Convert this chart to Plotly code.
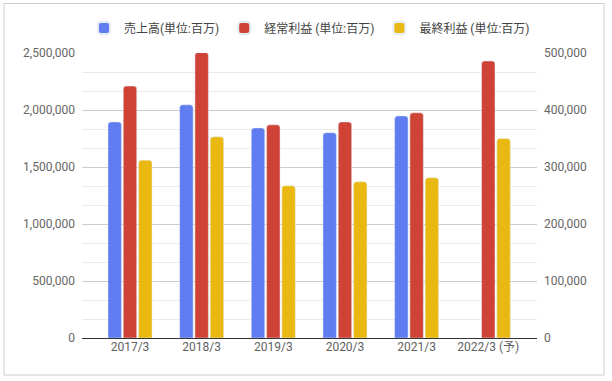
import plotly.graph_objects as go

categories = ["2017/3", "2018/3", "2019/3", "2020/3", "2021/3", "2022/3 (予)"]
sales = [1895000, 2045000, 1843000, 1801000, 1948000, None]
ordinary_profit = [442000, 501000, 374000, 379000, 395000, 486000]
net_profit = [312000, 353000, 267000, 274000, 281000, 350000]

names = ["売上高(単位:百万)", "経常利益 (単位:百万)", "最終利益 (単位:百万)"]
colors = ["#5f7cf0", "#cf4337", "#e9b911"]

x = list(range(len(categories)))
FONT = "Roboto, 'Noto Sans CJK JP', sans-serif"

fig = go.Figure()
fig.add_trace(go.Bar(x=x, y=sales, name=names[0], marker=dict(color=colors[0], cornerradius=3),
                     offsetgroup="a", yaxis="y"))
fig.add_trace(go.Bar(x=x, y=ordinary_profit, name=names[1], marker=dict(color=colors[1], cornerradius=3),
                     offsetgroup="b", yaxis="y2"))
fig.add_trace(go.Bar(x=x, y=net_profit, name=names[2], marker=dict(color=colors[2], cornerradius=3),
                     offsetgroup="c", yaxis="y2"))

fig.update_layout(
    width=612, height=381,
    margin=dict(l=82, r=75, t=53, b=43, autoexpand=False),
    paper_bgcolor="white", plot_bgcolor="white",
    font=dict(family=FONT, size=12, color="#5f5f5f"),
    barmode="group", bargap=0.36, bargroupgap=0.12,
    showlegend=True,
    legend=dict(orientation="h", x=0.5, xanchor="center", y=(338 - 28) / 285, yanchor="middle",
                font=dict(size=12, color="#444"), itemsizing="constant",
                traceorder="normal", itemwidth=30),
    xaxis=dict(tickvals=x, ticktext=categories, range=[-0.67, 5.68],
               showgrid=False, zeroline=False, showline=False, ticks="",
               tickfont=dict(size=12, color="#5f5f5f")),
    yaxis=dict(range=[0, 2500000], dtick=500000, tickformat=",d",
               showgrid=True, gridcolor="#cccccc", gridwidth=1,
               zeroline=True, zerolinecolor="#333333", zerolinewidth=1,
               minor=dict(dtick=500000 / 3, showgrid=True, gridcolor="#ebebeb", gridwidth=1),
               ticks="", ticklabelstandoff=6, tickfont=dict(size=12, color="#666666")),
    yaxis2=dict(range=[0, 500000], dtick=100000, tickformat=",d", overlaying="y", side="right",
                showgrid=False, zeroline=False, ticks="", ticklabelstandoff=6,
                tickfont=dict(size=12, color="#666666")),
    shapes=[dict(type="rect", xref="paper", yref="paper",
                 x0=(4 - 82) / 455, x1=(604 - 82) / 455,
                 y0=(338 - 375) / 285, y1=(338 - 3.5) / 285,
                 line=dict(color="#cccccc", width=1), fillcolor="rgba(0,0,0,0)", layer="below")],
)

fig.write_html("out.html", config={"displayModeBar": False},
               post_script="document.body.style.margin='0';")
